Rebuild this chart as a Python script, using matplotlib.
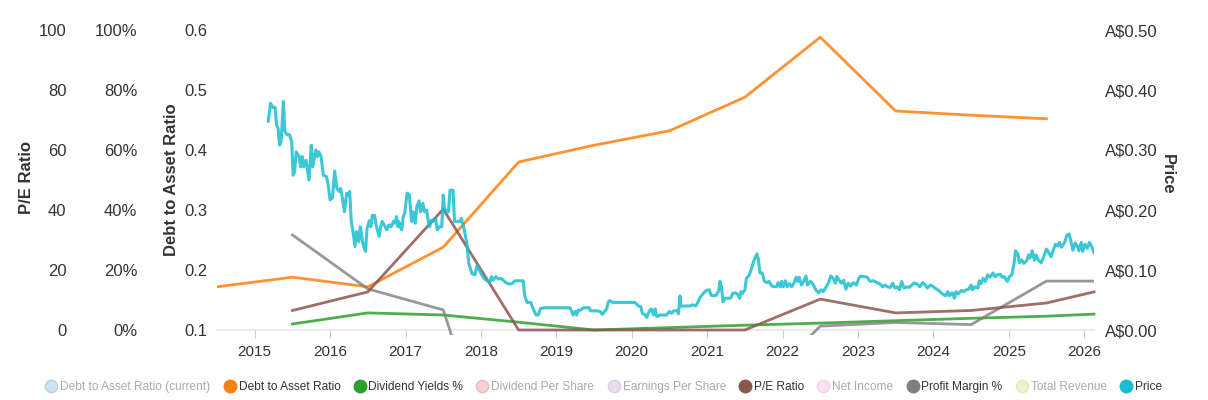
import numpy as np
import matplotlib.pyplot as plt
from matplotlib.lines import Line2D
from matplotlib.patches import Rectangle
from matplotlib.colors import to_rgba
from matplotlib.ticker import FuncFormatter

plt.rcParams['font.family'] = ['Liberation Sans', 'DejaVu Sans']

# Fiscal year values (plotted mid-year), last point is the current date
debt_dates = [2014.5, 2015.5, 2016.5, 2017.5, 2018.5, 2019.5, 2020.5,
              2021.5, 2022.5, 2023.5, 2024.5, 2025.5]
debt_ratio = [0.172, 0.188, 0.172, 0.238, 0.380, 0.408, 0.432,
              0.488, 0.588, 0.465, 0.458, 0.452]

ratio_dates = [2015.5, 2016.5, 2017.5, 2018.5, 2019.5, 2020.5, 2021.5,
               2022.5, 2023.5, 2024.5, 2025.5, 2026.13]
pe_ratio = [6.5, 12.7, 40.3, 0.0, 0.0, 0.0, 0.0, 10.3, 5.7, 6.5, 9.0, 12.7]
div_yield = [2.0, 5.7, 5.0, 2.6, 0.0, 0.8, 1.6, 2.3, 3.1, 3.9, 4.6, 5.3]
profit_margin = [31.7, 13.7, 6.7, -70.0, -85.0, -65.0, -24.0,
                 1.3, 2.5, 1.8, 16.3, 16.3]

# Share price (A$)
price_dates = [
    2015.18, 2015.21, 2015.24, 2015.27, 2015.29, 2015.31, 2015.33, 2015.35, 2015.38, 2015.40,
    2015.43, 2015.46, 2015.49, 2015.51, 2015.53, 2015.55, 2015.59, 2015.61, 2015.63, 2015.65,
    2015.68, 2015.72, 2015.75, 2015.77, 2015.81, 2015.83, 2015.85, 2015.88, 2015.91, 2015.95,
    2015.97, 2016.00, 2016.03, 2016.06, 2016.09, 2016.12, 2016.14, 2016.16, 2016.19, 2016.22,
    2016.24, 2016.26, 2016.28, 2016.30, 2016.33, 2016.35, 2016.38, 2016.40, 2016.43, 2016.45,
    2016.47, 2016.49, 2016.52, 2016.54, 2016.56, 2016.59, 2016.61, 2016.65, 2016.67, 2016.69,
    2016.73, 2016.75, 2016.78, 2016.81, 2016.84, 2016.86, 2016.88, 2016.90, 2016.91, 2016.95,
    2016.97, 2016.99, 2017.02, 2017.05, 2017.08, 2017.10, 2017.13, 2017.15, 2017.18, 2017.20,
    2017.23, 2017.25, 2017.28, 2017.30, 2017.32, 2017.34, 2017.37, 2017.40, 2017.42, 2017.45,
    2017.48, 2017.50, 2017.52, 2017.54, 2017.57, 2017.59, 2017.63, 2017.65, 2017.72, 2017.74,
    2017.77, 2017.81, 2017.84, 2017.88, 2017.92, 2017.95, 2017.98, 2018.01, 2018.04, 2018.07,
    2018.12, 2018.14, 2018.16, 2018.20, 2018.23, 2018.27, 2018.32, 2018.36, 2018.41, 2018.45,
    2018.56, 2018.58, 2018.61, 2018.66, 2018.69, 2018.73, 2018.76, 2018.79, 2018.85, 2019.18,
    2019.20, 2019.22, 2019.25, 2019.27, 2019.29, 2019.32, 2019.36, 2019.44, 2019.45, 2019.53,
    2019.58, 2019.61, 2019.64, 2019.67, 2019.69, 2019.71, 2019.75, 2020.04, 2020.09, 2020.12,
    2020.14, 2020.18, 2020.20, 2020.22, 2020.24, 2020.26, 2020.29, 2020.31, 2020.33, 2020.35,
    2020.37, 2020.46, 2020.50, 2020.53, 2020.56, 2020.60, 2020.62, 2020.64, 2020.65, 2020.77,
    2020.81, 2020.85, 2020.88, 2020.91, 2020.95, 2020.99, 2021.03, 2021.05, 2021.08, 2021.12,
    2021.15, 2021.17, 2021.19, 2021.21, 2021.24, 2021.31, 2021.34, 2021.37, 2021.40, 2021.43,
    2021.45, 2021.47, 2021.50, 2021.52, 2021.56, 2021.59, 2021.62, 2021.66, 2021.68, 2021.70,
    2021.73, 2021.76, 2021.79, 2021.82, 2021.86, 2021.92, 2021.94, 2021.97, 2021.99, 2022.01,
    2022.04, 2022.06, 2022.09, 2022.12, 2022.15, 2022.18, 2022.20, 2022.22, 2022.25, 2022.28,
    2022.31, 2022.33, 2022.37, 2022.41, 2022.44, 2022.48, 2022.51, 2022.54, 2022.58, 2022.61,
    2022.64, 2022.67, 2022.70, 2022.72, 2022.75, 2022.78, 2022.81, 2022.84, 2022.87, 2022.90,
    2022.94, 2022.98, 2023.01, 2023.04, 2023.08, 2023.12, 2023.16, 2023.21, 2023.25, 2023.29,
    2023.33, 2023.36, 2023.39, 2023.43, 2023.46, 2023.49, 2023.52, 2023.55, 2023.58, 2023.61,
    2023.65, 2023.68, 2023.74, 2023.78, 2023.82, 2023.86, 2023.89, 2023.92, 2023.96, 2023.99,
    2024.02, 2024.07, 2024.11, 2024.16, 2024.19, 2024.21, 2024.25, 2024.28, 2024.30, 2024.33,
    2024.37, 2024.40, 2024.44, 2024.47, 2024.50, 2024.52, 2024.55, 2024.59, 2024.61, 2024.63,
    2024.66, 2024.69, 2024.72, 2024.75, 2024.79, 2024.82, 2024.85, 2024.89, 2024.91, 2024.94,
    2024.98, 2025.01, 2025.04, 2025.07, 2025.09, 2025.12, 2025.14, 2025.17, 2025.20, 2025.24,
    2025.26, 2025.28, 2025.31, 2025.34, 2025.36, 2025.39, 2025.43, 2025.46, 2025.50, 2025.53,
    2025.56, 2025.59, 2025.62, 2025.65, 2025.67, 2025.70, 2025.74, 2025.77, 2025.80, 2025.82,
    2025.85, 2025.88, 2025.90, 2025.93, 2025.96, 2025.98, 2026.01, 2026.04, 2026.07, 2026.10,
    2026.13,
]
price_values = [
    0.348, 0.378, 0.371, 0.371, 0.342, 0.336, 0.308, 0.314, 0.381, 0.331,
    0.325, 0.326, 0.314, 0.258, 0.264, 0.297, 0.289, 0.272, 0.289, 0.272,
    0.283, 0.250, 0.308, 0.272, 0.300, 0.289, 0.297, 0.289, 0.258, 0.256,
    0.245, 0.217, 0.220, 0.265, 0.236, 0.231, 0.236, 0.222, 0.197, 0.228,
    0.225, 0.231, 0.181, 0.167, 0.139, 0.164, 0.147, 0.172, 0.147, 0.137,
    0.131, 0.170, 0.182, 0.172, 0.191, 0.191, 0.175, 0.156, 0.172, 0.181,
    0.172, 0.167, 0.175, 0.172, 0.181, 0.178, 0.189, 0.172, 0.181, 0.167,
    0.189, 0.195, 0.228, 0.226, 0.181, 0.197, 0.178, 0.206, 0.215, 0.197,
    0.211, 0.197, 0.200, 0.183, 0.172, 0.183, 0.181, 0.186, 0.167, 0.172,
    0.172, 0.225, 0.197, 0.200, 0.197, 0.233, 0.233, 0.181, 0.181, 0.186,
    0.172, 0.147, 0.111, 0.094, 0.092, 0.108, 0.100, 0.092, 0.086, 0.083,
    0.080, 0.089, 0.083, 0.089, 0.085, 0.086, 0.080, 0.077, 0.077, 0.082,
    0.082, 0.058, 0.046, 0.046, 0.036, 0.025, 0.025, 0.036, 0.037, 0.037,
    0.032, 0.025, 0.031, 0.025, 0.033, 0.033, 0.037, 0.037, 0.032, 0.032,
    0.031, 0.026, 0.031, 0.036, 0.047, 0.049, 0.046, 0.046, 0.040, 0.039,
    0.028, 0.025, 0.021, 0.028, 0.033, 0.035, 0.025, 0.035, 0.023, 0.023,
    0.025, 0.025, 0.031, 0.028, 0.032, 0.032, 0.027, 0.057, 0.040, 0.040,
    0.042, 0.040, 0.047, 0.055, 0.061, 0.066, 0.067, 0.058, 0.057, 0.058,
    0.064, 0.081, 0.072, 0.047, 0.053, 0.053, 0.061, 0.062, 0.060, 0.053,
    0.064, 0.061, 0.067, 0.086, 0.092, 0.103, 0.116, 0.127, 0.117, 0.095,
    0.095, 0.081, 0.079, 0.081, 0.073, 0.072, 0.079, 0.072, 0.081, 0.072,
    0.082, 0.072, 0.077, 0.072, 0.078, 0.088, 0.081, 0.088, 0.075, 0.081,
    0.090, 0.075, 0.081, 0.075, 0.067, 0.062, 0.067, 0.064, 0.072, 0.079,
    0.090, 0.086, 0.078, 0.089, 0.083, 0.078, 0.083, 0.068, 0.078, 0.073,
    0.079, 0.075, 0.086, 0.090, 0.089, 0.088, 0.081, 0.082, 0.079, 0.077,
    0.072, 0.075, 0.072, 0.071, 0.078, 0.070, 0.072, 0.067, 0.081, 0.070,
    0.072, 0.071, 0.078, 0.077, 0.072, 0.079, 0.075, 0.070, 0.075, 0.073,
    0.070, 0.066, 0.061, 0.057, 0.064, 0.057, 0.062, 0.053, 0.064, 0.060,
    0.066, 0.064, 0.067, 0.068, 0.075, 0.067, 0.072, 0.070, 0.082, 0.077,
    0.086, 0.081, 0.092, 0.088, 0.095, 0.089, 0.092, 0.093, 0.088, 0.089,
    0.081, 0.089, 0.092, 0.111, 0.132, 0.127, 0.112, 0.117, 0.111, 0.116,
    0.125, 0.120, 0.132, 0.116, 0.125, 0.117, 0.112, 0.121, 0.135, 0.129,
    0.122, 0.133, 0.143, 0.140, 0.146, 0.138, 0.146, 0.158, 0.160, 0.150,
    0.133, 0.145, 0.142, 0.132, 0.146, 0.131, 0.143, 0.136, 0.146, 0.139,
    0.129,
]

years = list(range(2015, 2027))

legend_labels = ['Debt to Asset Ratio (current)', 'Debt to Asset Ratio',
                 'Dividend Yields %', 'Dividend Per Share', 'Earnings Per Share',
                 'P/E Ratio', 'Net Income', 'Profit Margin %', 'Total Revenue', 'Price']
legend_colors = ['#1f77b4', '#ff7f0e', '#2ca02c', '#d62728', '#9467bd',
                 '#8c564b', '#e377c2', '#7f7f7f', '#bcbd22', '#17becf']
legend_shown = [False, True, True, False, False, True, False, True, False, True]

text_color = '#333333'
tick_size = 12

fig = plt.figure(figsize=(12.08, 4), dpi=100)
ax = fig.add_axes([217 / 1208, 70 / 400, 877 / 1208, 300 / 400])
ax_pct = ax.twinx()
ax_pe = ax.twinx()
ax_px = ax.twinx()

for a in (ax, ax_pct, ax_pe, ax_px):
    for s in ('top', 'right', 'left', 'bottom'):
        a.spines[s].set_visible(False)
    a.tick_params(axis='y', length=0, labelsize=tick_size, labelcolor=text_color)
ax.spines['bottom'].set_visible(True)
ax.spines['bottom'].set_color('#e6e6e6')
ax.spines['bottom'].set_linewidth(1.2)

# x axis
ax.set_xlim(2014.5, 2026.13)
ax.set_xticks(years)
ax.tick_params(axis='x', direction='out', length=6, color='#cccccc',
               labelsize=11, labelcolor=text_color, pad=5)

# debt ratio axis (innermost left)
ax.set_ylim(0.1, 0.6)
ax.set_yticks(np.arange(0.1, 0.61, 0.1))
ax.yaxis.set_major_formatter(FuncFormatter(lambda v, p: f'{v:.1f}'))
ax.tick_params(axis='y', pad=7)
ax.set_ylabel('Debt to Asset Ratio', fontsize=12, fontweight='bold', color=text_color)
ax.yaxis.set_label_coords(-0.043, 0.5)

# percent axis
ax_pct.yaxis.tick_left()
ax_pct.spines['left'].set_position(('outward', 50.4))
ax_pct.set_ylim(0, 100)
ax_pct.set_yticks(range(0, 101, 20))
ax_pct.yaxis.set_major_formatter(FuncFormatter(lambda v, p: f'{v:.0f}%'))
ax_pct.tick_params(axis='y', pad=7)

# P/E axis
ax_pe.yaxis.tick_left()
ax_pe.yaxis.set_label_position('left')
ax_pe.spines['left'].set_position(('outward', 101.5))
ax_pe.set_ylim(0, 100)
ax_pe.set_yticks(range(0, 101, 20))
ax_pe.tick_params(axis='y', pad=7)
ax_pe.set_ylabel('P/E Ratio', fontsize=12, fontweight='bold', color=text_color)
ax_pe.yaxis.set_label_coords(-0.209, 0.51)

# price axis (right)
ax_px.set_ylim(0, 0.5)
ax_px.set_yticks(np.arange(0, 0.51, 0.1))
ax_px.yaxis.set_major_formatter(FuncFormatter(lambda v, p: f'A${v:.2f}'))
ax_px.tick_params(axis='y', pad=8)
ax_px.set_ylabel('Price', fontsize=12, fontweight='bold', color=text_color,
                 rotation=-90)
ax_px.yaxis.set_label_coords(1.092, 0.52)

lw = 2.0
ax.plot(debt_dates, debt_ratio, color='#ff7f0e', lw=lw, alpha=0.85)
ax_pct.plot(ratio_dates, div_yield, color='#2ca02c', lw=lw, alpha=0.85, clip_on=False)
pm_line, = ax_pct.plot(ratio_dates, profit_margin, color='#7f7f7f', lw=lw, alpha=0.8)
pm_line.set_clip_path(Rectangle((0, -0.015), 1, 1.015, transform=ax_pct.transAxes))
ax_pe.plot(ratio_dates, pe_ratio, color='#8c564b', lw=lw, alpha=0.85, clip_on=False)
ax_px.plot(price_dates, price_values, color='#17becf', lw=2.2, alpha=0.85)

# legend
handles = []
for c, shown in zip(legend_colors, legend_shown):
    face = to_rgba(c, 1.0 if shown else 0.22)
    handles.append(Line2D([], [], linestyle='', marker='o', markersize=9,
                          markerfacecolor=face, markeredgecolor=face))
leg = fig.legend(handles, legend_labels, loc='center', bbox_to_anchor=(0.5, 0.032),
                 ncol=10, frameon=False, fontsize=8.6, handlelength=0.9,
                 handletextpad=0.3, columnspacing=1.15)
for t, shown in zip(leg.get_texts(), legend_shown):
    t.set_color(text_color if shown else '#aaaaaa')

fig.savefig('out.png', dpi=100)
